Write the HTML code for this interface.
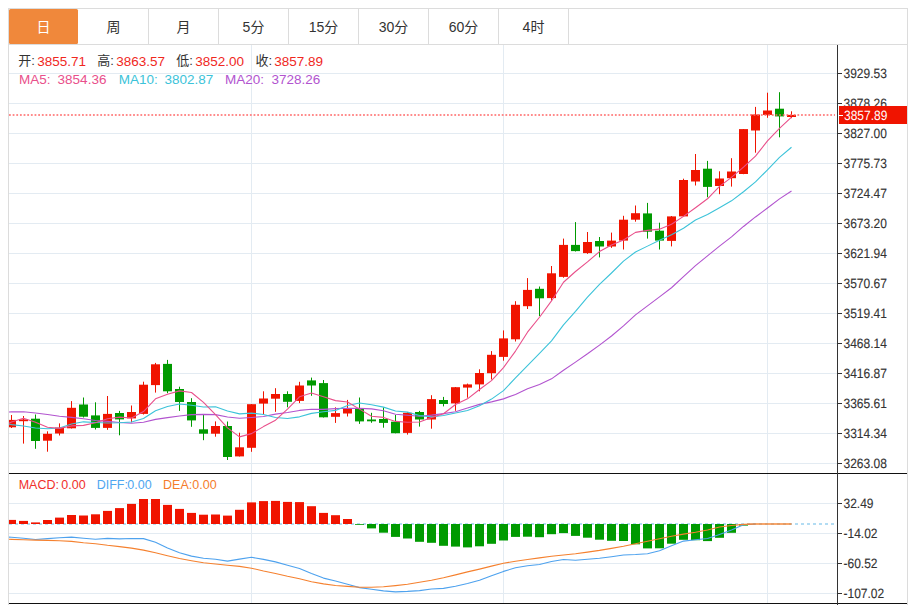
<!DOCTYPE html>
<html><head><meta charset="utf-8"><title>K</title>
<style>html,body{margin:0;padding:0;background:#fff;}body{width:914px;height:605px;overflow:hidden;position:relative;}</style>
</head><body>
<svg width="914" height="605" viewBox="0 0 914 605" style="position:absolute;left:0;top:0">
<defs><clipPath id="cm"><rect x="9" y="45" width="828" height="428"/></clipPath><clipPath id="cd"><rect x="9" y="474" width="828" height="129"/></clipPath></defs>
<rect x="8.5" y="8.5" width="899" height="620" fill="none" stroke="#dcdcdc" stroke-width="1"/>
<line x1="9" y1="44.5" x2="907" y2="44.5" stroke="#dcdcdc"/>
<rect x="9" y="9" width="69" height="35" rx="1.5" ry="1.5" fill="#f0883b"/>
<line x1="148.5" y1="9" x2="148.5" y2="44" stroke="#dcdcdc"/>
<line x1="218.5" y1="9" x2="218.5" y2="44" stroke="#dcdcdc"/>
<line x1="288.5" y1="9" x2="288.5" y2="44" stroke="#dcdcdc"/>
<line x1="358.5" y1="9" x2="358.5" y2="44" stroke="#dcdcdc"/>
<line x1="428.5" y1="9" x2="428.5" y2="44" stroke="#dcdcdc"/>
<line x1="498.5" y1="9" x2="498.5" y2="44" stroke="#dcdcdc"/>
<line x1="568.5" y1="9" x2="568.5" y2="44" stroke="#dcdcdc"/>
<text x="43.5" y="32" text-anchor="middle" font-size="14" fill="#ffffff" font-family="'Liberation Sans', 'Noto Sans CJK SC', sans-serif">日</text>
<text x="113.5" y="32" text-anchor="middle" font-size="14" fill="#333333" font-family="'Liberation Sans', 'Noto Sans CJK SC', sans-serif">周</text>
<text x="183.5" y="32" text-anchor="middle" font-size="14" fill="#333333" font-family="'Liberation Sans', 'Noto Sans CJK SC', sans-serif">月</text>
<text x="253.5" y="32" text-anchor="middle" font-size="14" fill="#333333" font-family="'Liberation Sans', 'Noto Sans CJK SC', sans-serif">5分</text>
<text x="323.5" y="32" text-anchor="middle" font-size="14" fill="#333333" font-family="'Liberation Sans', 'Noto Sans CJK SC', sans-serif">15分</text>
<text x="393.5" y="32" text-anchor="middle" font-size="14" fill="#333333" font-family="'Liberation Sans', 'Noto Sans CJK SC', sans-serif">30分</text>
<text x="463.5" y="32" text-anchor="middle" font-size="14" fill="#333333" font-family="'Liberation Sans', 'Noto Sans CJK SC', sans-serif">60分</text>
<text x="533.5" y="32" text-anchor="middle" font-size="14" fill="#333333" font-family="'Liberation Sans', 'Noto Sans CJK SC', sans-serif">4时</text>
<line x1="9" y1="73.5" x2="837" y2="73.5" stroke="#e3ebf2"/>
<line x1="9" y1="103.5" x2="837" y2="103.5" stroke="#e3ebf2"/>
<line x1="9" y1="133.5" x2="837" y2="133.5" stroke="#e3ebf2"/>
<line x1="9" y1="163.5" x2="837" y2="163.5" stroke="#e3ebf2"/>
<line x1="9" y1="193.5" x2="837" y2="193.5" stroke="#e3ebf2"/>
<line x1="9" y1="223.5" x2="837" y2="223.5" stroke="#e3ebf2"/>
<line x1="9" y1="253.5" x2="837" y2="253.5" stroke="#e3ebf2"/>
<line x1="9" y1="283.5" x2="837" y2="283.5" stroke="#e3ebf2"/>
<line x1="9" y1="313.5" x2="837" y2="313.5" stroke="#e3ebf2"/>
<line x1="9" y1="343.5" x2="837" y2="343.5" stroke="#e3ebf2"/>
<line x1="9" y1="373.5" x2="837" y2="373.5" stroke="#e3ebf2"/>
<line x1="9" y1="403.5" x2="837" y2="403.5" stroke="#e3ebf2"/>
<line x1="9" y1="433.5" x2="837" y2="433.5" stroke="#e3ebf2"/>
<line x1="9" y1="463.5" x2="837" y2="463.5" stroke="#e3ebf2"/>
<line x1="9" y1="503.5" x2="837" y2="503.5" stroke="#e3ebf2"/>
<line x1="9" y1="533.5" x2="837" y2="533.5" stroke="#e3ebf2"/>
<line x1="9" y1="563.5" x2="837" y2="563.5" stroke="#e3ebf2"/>
<line x1="9" y1="593.5" x2="837" y2="593.5" stroke="#e3ebf2"/>
<line x1="251.5" y1="45" x2="251.5" y2="473" stroke="#e3ebf2"/>
<line x1="251.5" y1="474" x2="251.5" y2="603" stroke="#e3ebf2"/>
<line x1="503.5" y1="45" x2="503.5" y2="473" stroke="#e3ebf2"/>
<line x1="503.5" y1="474" x2="503.5" y2="603" stroke="#e3ebf2"/>
<line x1="767.5" y1="45" x2="767.5" y2="473" stroke="#e3ebf2"/>
<line x1="767.5" y1="474" x2="767.5" y2="603" stroke="#e3ebf2"/>
<g clip-path="url(#cm)">
<line x1="11.5" y1="415" x2="11.5" y2="428" stroke="#f01400"/>
<rect x="7.0" y="419.9" width="9" height="7.4" fill="#f01400"/>
<line x1="23.5" y1="416" x2="23.5" y2="443.6" stroke="#f01400"/>
<rect x="19.0" y="419.4" width="9" height="1.8" fill="#f01400"/>
<line x1="35.5" y1="414.5" x2="35.5" y2="448.8" stroke="#009a00"/>
<rect x="31.0" y="418.7" width="9" height="22.3" fill="#009a00"/>
<line x1="47.5" y1="431.3" x2="47.5" y2="451.7" stroke="#f01400"/>
<rect x="43.0" y="433.8" width="9" height="6.9" fill="#f01400"/>
<line x1="59.5" y1="423.4" x2="59.5" y2="435.5" stroke="#f01400"/>
<rect x="55.0" y="427.6" width="9" height="5.9" fill="#f01400"/>
<line x1="71.5" y1="401.1" x2="71.5" y2="428.5" stroke="#f01400"/>
<rect x="67.0" y="407.8" width="9" height="20.5" fill="#f01400"/>
<line x1="83.5" y1="397.5" x2="83.5" y2="417.5" stroke="#009a00"/>
<rect x="79.0" y="404.5" width="9" height="12.2" fill="#009a00"/>
<line x1="95.5" y1="402.3" x2="95.5" y2="429.5" stroke="#009a00"/>
<rect x="91.0" y="415.4" width="9" height="12.5" fill="#009a00"/>
<line x1="107.5" y1="396" x2="107.5" y2="429.8" stroke="#f01400"/>
<rect x="103.0" y="413.9" width="9" height="14" fill="#f01400"/>
<line x1="119.5" y1="410.9" x2="119.5" y2="435.3" stroke="#009a00"/>
<rect x="115.0" y="413" width="9" height="6.4" fill="#009a00"/>
<line x1="131.5" y1="405.5" x2="131.5" y2="422.4" stroke="#f01400"/>
<rect x="127.0" y="412" width="9" height="6.4" fill="#f01400"/>
<line x1="143.5" y1="381.7" x2="143.5" y2="414.5" stroke="#f01400"/>
<rect x="139.0" y="384.7" width="9" height="29.2" fill="#f01400"/>
<line x1="155.5" y1="362.9" x2="155.5" y2="392.6" stroke="#f01400"/>
<rect x="151.0" y="364.3" width="9" height="20.8" fill="#f01400"/>
<line x1="167.5" y1="359.9" x2="167.5" y2="393.2" stroke="#009a00"/>
<rect x="163.0" y="363.9" width="9" height="27.4" fill="#009a00"/>
<line x1="179.5" y1="386.7" x2="179.5" y2="410.9" stroke="#009a00"/>
<rect x="175.0" y="389" width="9" height="13" fill="#009a00"/>
<line x1="191.5" y1="398.2" x2="191.5" y2="426.8" stroke="#009a00"/>
<rect x="187.0" y="402" width="9" height="18.4" fill="#009a00"/>
<line x1="203.5" y1="414.5" x2="203.5" y2="440.2" stroke="#009a00"/>
<rect x="199.0" y="429.3" width="9" height="4.4" fill="#009a00"/>
<line x1="215.5" y1="421.4" x2="215.5" y2="436.7" stroke="#f01400"/>
<rect x="211.0" y="426" width="9" height="7.7" fill="#f01400"/>
<line x1="227.5" y1="421.5" x2="227.5" y2="460" stroke="#009a00"/>
<rect x="223.0" y="426" width="9" height="31" fill="#009a00"/>
<line x1="239.5" y1="432.7" x2="239.5" y2="456.5" stroke="#f01400"/>
<rect x="235.0" y="447.3" width="9" height="9.1" fill="#f01400"/>
<line x1="251.5" y1="404" x2="251.5" y2="451.8" stroke="#f01400"/>
<rect x="247.0" y="404.2" width="9" height="43.6" fill="#f01400"/>
<line x1="263.5" y1="391.3" x2="263.5" y2="414.2" stroke="#f01400"/>
<rect x="259.0" y="398.5" width="9" height="5.1" fill="#f01400"/>
<line x1="275.5" y1="388.2" x2="275.5" y2="411.8" stroke="#f01400"/>
<rect x="271.0" y="394" width="9" height="4.7" fill="#f01400"/>
<line x1="287.5" y1="391.3" x2="287.5" y2="407.3" stroke="#009a00"/>
<rect x="283.0" y="394" width="9" height="7.8" fill="#009a00"/>
<line x1="299.5" y1="381.8" x2="299.5" y2="403.1" stroke="#f01400"/>
<rect x="295.0" y="385.5" width="9" height="15.4" fill="#f01400"/>
<line x1="311.5" y1="377.6" x2="311.5" y2="395.8" stroke="#009a00"/>
<rect x="307.0" y="380.4" width="9" height="5.1" fill="#009a00"/>
<line x1="323.5" y1="380" x2="323.5" y2="417.5" stroke="#009a00"/>
<rect x="319.0" y="383.1" width="9" height="34.2" fill="#009a00"/>
<line x1="335.5" y1="407.3" x2="335.5" y2="422.9" stroke="#f01400"/>
<rect x="331.0" y="413.1" width="9" height="3.7" fill="#f01400"/>
<line x1="347.5" y1="399.9" x2="347.5" y2="416.5" stroke="#f01400"/>
<rect x="343.0" y="408.3" width="9" height="5.2" fill="#f01400"/>
<line x1="359.5" y1="397.5" x2="359.5" y2="423.9" stroke="#009a00"/>
<rect x="355.0" y="408.3" width="9" height="13.1" fill="#009a00"/>
<line x1="371.5" y1="412.8" x2="371.5" y2="422.8" stroke="#009a00"/>
<rect x="367.0" y="419.5" width="9" height="1.8" fill="#009a00"/>
<line x1="383.5" y1="407.3" x2="383.5" y2="427.7" stroke="#009a00"/>
<rect x="379.0" y="419" width="9" height="3.9" fill="#009a00"/>
<line x1="395.5" y1="415" x2="395.5" y2="433.3" stroke="#009a00"/>
<rect x="391.0" y="421.7" width="9" height="11.5" fill="#009a00"/>
<line x1="407.5" y1="412" x2="407.5" y2="434.6" stroke="#f01400"/>
<rect x="403.0" y="412.8" width="9" height="20.1" fill="#f01400"/>
<line x1="419.5" y1="410.9" x2="419.5" y2="426.6" stroke="#009a00"/>
<rect x="415.0" y="412" width="9" height="7.5" fill="#009a00"/>
<line x1="431.5" y1="395.2" x2="431.5" y2="428.7" stroke="#f01400"/>
<rect x="427.0" y="399.1" width="9" height="20.4" fill="#f01400"/>
<line x1="443.5" y1="396.9" x2="443.5" y2="406.4" stroke="#009a00"/>
<rect x="439.0" y="400" width="9" height="4" fill="#009a00"/>
<line x1="455.5" y1="387" x2="455.5" y2="410.8" stroke="#f01400"/>
<rect x="451.0" y="387.2" width="9" height="16.2" fill="#f01400"/>
<line x1="467.5" y1="383.6" x2="467.5" y2="397.7" stroke="#f01400"/>
<rect x="463.0" y="384.4" width="9" height="3.2" fill="#f01400"/>
<line x1="479.5" y1="369.3" x2="479.5" y2="391.3" stroke="#f01400"/>
<rect x="475.0" y="373" width="9" height="11.4" fill="#f01400"/>
<line x1="491.5" y1="351.1" x2="491.5" y2="379.5" stroke="#f01400"/>
<rect x="487.0" y="354.8" width="9" height="18.4" fill="#f01400"/>
<line x1="503.5" y1="330.4" x2="503.5" y2="360.7" stroke="#f01400"/>
<rect x="499.0" y="338.4" width="9" height="18.5" fill="#f01400"/>
<line x1="515.5" y1="301.2" x2="515.5" y2="341.5" stroke="#f01400"/>
<rect x="511.0" y="304.8" width="9" height="34.5" fill="#f01400"/>
<line x1="527.5" y1="278.1" x2="527.5" y2="309" stroke="#f01400"/>
<rect x="523.0" y="289.9" width="9" height="16.3" fill="#f01400"/>
<line x1="539.5" y1="286.5" x2="539.5" y2="316" stroke="#009a00"/>
<rect x="535.0" y="288.8" width="9" height="9.5" fill="#009a00"/>
<line x1="551.5" y1="266" x2="551.5" y2="300.6" stroke="#f01400"/>
<rect x="547.0" y="273.3" width="9" height="24.8" fill="#f01400"/>
<line x1="563.5" y1="238.6" x2="563.5" y2="277.7" stroke="#f01400"/>
<rect x="559.0" y="244.9" width="9" height="32" fill="#f01400"/>
<line x1="575.5" y1="222.1" x2="575.5" y2="251.5" stroke="#009a00"/>
<rect x="571.0" y="244.9" width="9" height="6.2" fill="#009a00"/>
<line x1="587.5" y1="232" x2="587.5" y2="253.9" stroke="#f01400"/>
<rect x="583.0" y="242" width="9" height="11.1" fill="#f01400"/>
<line x1="599.5" y1="237" x2="599.5" y2="257.4" stroke="#009a00"/>
<rect x="595.0" y="241" width="9" height="5.5" fill="#009a00"/>
<line x1="611.5" y1="232.6" x2="611.5" y2="247.9" stroke="#f01400"/>
<rect x="607.0" y="240.6" width="9" height="5.9" fill="#f01400"/>
<line x1="623.5" y1="215.8" x2="623.5" y2="249.5" stroke="#f01400"/>
<rect x="619.0" y="219.7" width="9" height="20.9" fill="#f01400"/>
<line x1="635.5" y1="205.5" x2="635.5" y2="221.7" stroke="#f01400"/>
<rect x="631.0" y="213.2" width="9" height="6.5" fill="#f01400"/>
<line x1="647.5" y1="202.9" x2="647.5" y2="238.6" stroke="#009a00"/>
<rect x="643.0" y="213.4" width="9" height="18.3" fill="#009a00"/>
<line x1="659.5" y1="222.7" x2="659.5" y2="249.5" stroke="#009a00"/>
<rect x="655.0" y="230.7" width="9" height="9.9" fill="#009a00"/>
<line x1="671.5" y1="216" x2="671.5" y2="246.4" stroke="#f01400"/>
<rect x="667.0" y="216.4" width="9" height="24.5" fill="#f01400"/>
<line x1="683.5" y1="178.7" x2="683.5" y2="216.5" stroke="#f01400"/>
<rect x="679.0" y="180" width="9" height="36.4" fill="#f01400"/>
<line x1="695.5" y1="154" x2="695.5" y2="185.5" stroke="#f01400"/>
<rect x="691.0" y="170" width="9" height="11.5" fill="#f01400"/>
<line x1="707.5" y1="160.9" x2="707.5" y2="197.3" stroke="#009a00"/>
<rect x="703.0" y="168.7" width="9" height="18.2" fill="#009a00"/>
<line x1="719.5" y1="171.3" x2="719.5" y2="194.2" stroke="#f01400"/>
<rect x="715.0" y="178.5" width="9" height="7.5" fill="#f01400"/>
<line x1="731.5" y1="158.2" x2="731.5" y2="186.6" stroke="#f01400"/>
<rect x="727.0" y="171.5" width="9" height="6.7" fill="#f01400"/>
<line x1="743.5" y1="129" x2="743.5" y2="174.2" stroke="#f01400"/>
<rect x="739.0" y="129.1" width="9" height="44.9" fill="#f01400"/>
<line x1="755.5" y1="106.9" x2="755.5" y2="152.7" stroke="#f01400"/>
<rect x="751.0" y="114.5" width="9" height="16" fill="#f01400"/>
<line x1="767.5" y1="92.7" x2="767.5" y2="117.8" stroke="#f01400"/>
<rect x="763.0" y="110.5" width="9" height="4.4" fill="#f01400"/>
<line x1="779.5" y1="92.2" x2="779.5" y2="137.3" stroke="#009a00"/>
<rect x="775.0" y="108.7" width="9" height="7.7" fill="#009a00"/>
<line x1="791.5" y1="111.3" x2="791.5" y2="118.2" stroke="#f01400"/>
<rect x="787.0" y="114.9" width="9" height="2.1" fill="#f01400"/>
<polyline points="-0.5,412 11.5,411.91 23.5,411.82 35.5,413.06 47.5,414.53 59.5,416.29 71.5,417.42 83.5,418.8 95.5,420.5 107.5,421.41 119.5,422.55 131.5,423.27 143.5,422.22 155.5,419.41 167.5,417.63 179.5,415.97 191.5,414.59 203.5,414.4 215.5,414.66 227.5,417.06 239.5,418.31 251.5,417.52 263.5,416.48 275.5,414.12 287.5,412.52 299.5,410.42 311.5,409.31 323.5,409.34 335.5,408.6 347.5,408.32 359.5,408.42 371.5,408.88 383.5,410.79 395.5,414.23 407.5,415.31 419.5,416.18 431.5,415.12 443.5,413.64 455.5,411.7 467.5,408.06 479.5,404.35 491.5,401.88 503.5,398.87 515.5,394.42 527.5,388.82 539.5,384.46 551.5,378.85 563.5,370.23 575.5,362.13 587.5,353.81 599.5,345.07 611.5,336.04 623.5,325.88 635.5,314.88 647.5,305.82 659.5,296.87 671.5,287.74 683.5,276.54 695.5,265.68 707.5,255.8 719.5,246.08 731.5,236.91 743.5,226.45 755.5,216.94 767.5,207.96 779.5,198.87 791.5,190.95" fill="none" stroke="#b254cf" stroke-width="1.1" stroke-linejoin="round"/>
<polyline points="-0.5,422.36 11.5,424.58 23.5,425.96 35.5,428.02 47.5,428.71 59.5,427.94 71.5,423.93 83.5,421.83 95.5,422.55 107.5,423.05 119.5,422.74 131.5,421.95 143.5,418.48 155.5,410.81 167.5,406.56 179.5,404 191.5,405.26 203.5,406.96 215.5,406.77 227.5,411.08 239.5,413.87 251.5,413.09 263.5,414.47 275.5,417.44 287.5,418.49 299.5,416.84 311.5,413.35 323.5,411.71 335.5,410.42 347.5,405.55 359.5,402.96 371.5,404.67 383.5,407.11 395.5,411.03 407.5,412.13 419.5,415.53 431.5,416.89 443.5,415.56 455.5,412.97 467.5,410.58 479.5,405.74 491.5,399.09 503.5,390.64 515.5,377.8 527.5,365.51 539.5,353.39 551.5,340.81 563.5,324.9 575.5,311.29 587.5,297.05 599.5,284.4 611.5,272.98 623.5,261.11 635.5,251.95 647.5,246.13 659.5,240.36 671.5,234.67 683.5,228.18 695.5,220.07 707.5,214.56 719.5,207.76 731.5,200.85 743.5,191.79 755.5,181.92 767.5,169.8 779.5,157.38 791.5,147.23" fill="none" stroke="#3cc3d9" stroke-width="1.1" stroke-linejoin="round"/>
<polyline points="-0.5,427.54 11.5,421.94 23.5,418.29 35.5,422.34 47.5,427.32 59.5,428.34 71.5,425.92 83.5,425.38 95.5,422.76 107.5,418.78 119.5,417.14 131.5,417.98 143.5,411.58 155.5,398.86 167.5,394.34 179.5,390.86 191.5,392.54 203.5,402.34 215.5,414.68 227.5,427.82 239.5,436.88 251.5,433.64 263.5,426.6 275.5,420.2 287.5,409.16 299.5,396.8 311.5,393.06 323.5,396.82 335.5,400.64 347.5,401.94 359.5,409.12 371.5,416.28 383.5,417.4 395.5,421.42 407.5,422.32 419.5,421.94 431.5,417.5 443.5,413.72 455.5,404.52 467.5,398.84 479.5,389.54 491.5,380.68 503.5,367.56 515.5,351.08 527.5,332.18 539.5,317.24 551.5,300.94 563.5,282.24 575.5,271.5 587.5,261.92 599.5,251.56 611.5,245.02 623.5,239.98 635.5,232.4 647.5,230.34 659.5,229.16 671.5,224.32 683.5,216.38 695.5,207.74 707.5,198.78 719.5,186.36 731.5,177.38 743.5,167.2 755.5,156.1 767.5,140.82 779.5,128.4 791.5,117.08" fill="none" stroke="#e9508b" stroke-width="1.1" stroke-linejoin="round"/>
<line x1="9" y1="115" x2="835" y2="115" stroke="#f66" stroke-width="1.3" stroke-dasharray="1.8 1.85"/>
</g>
<g clip-path="url(#cd)">
<line x1="9" y1="524" x2="837" y2="524" stroke="#b2dcf3" stroke-width="2" stroke-dasharray="3 3"/>
<rect x="7.0" y="519.9" width="9" height="4.1" fill="#f01400"/>
<rect x="19.0" y="520.9" width="9" height="3.1" fill="#f01400"/>
<rect x="31.0" y="522.4" width="9" height="1.6" fill="#f01400"/>
<rect x="43.0" y="520" width="9" height="4" fill="#f01400"/>
<rect x="55.0" y="517.6" width="9" height="6.4" fill="#f01400"/>
<rect x="67.0" y="515" width="9" height="9" fill="#f01400"/>
<rect x="79.0" y="515.5" width="9" height="8.5" fill="#f01400"/>
<rect x="91.0" y="514.3" width="9" height="9.7" fill="#f01400"/>
<rect x="103.0" y="510.9" width="9" height="13.1" fill="#f01400"/>
<rect x="115.0" y="508.1" width="9" height="15.9" fill="#f01400"/>
<rect x="127.0" y="503.9" width="9" height="20.1" fill="#f01400"/>
<rect x="139.0" y="499" width="9" height="25" fill="#f01400"/>
<rect x="151.0" y="499" width="9" height="25" fill="#f01400"/>
<rect x="163.0" y="504.9" width="9" height="19.1" fill="#f01400"/>
<rect x="175.0" y="508.9" width="9" height="15.1" fill="#f01400"/>
<rect x="187.0" y="512.9" width="9" height="11.1" fill="#f01400"/>
<rect x="199.0" y="514.7" width="9" height="9.3" fill="#f01400"/>
<rect x="211.0" y="514.5" width="9" height="9.5" fill="#f01400"/>
<rect x="223.0" y="515.6" width="9" height="8.4" fill="#f01400"/>
<rect x="235.0" y="509.8" width="9" height="14.2" fill="#f01400"/>
<rect x="247.0" y="502.4" width="9" height="21.6" fill="#f01400"/>
<rect x="259.0" y="501.1" width="9" height="22.9" fill="#f01400"/>
<rect x="271.0" y="500.9" width="9" height="23.1" fill="#f01400"/>
<rect x="283.0" y="501.9" width="9" height="22.1" fill="#f01400"/>
<rect x="295.0" y="502.1" width="9" height="21.9" fill="#f01400"/>
<rect x="307.0" y="506.2" width="9" height="17.8" fill="#f01400"/>
<rect x="319.0" y="512.9" width="9" height="11.1" fill="#f01400"/>
<rect x="331.0" y="515.2" width="9" height="8.8" fill="#f01400"/>
<rect x="343.0" y="519" width="9" height="5" fill="#f01400"/>
<rect x="355.0" y="524" width="9" height="0.8" fill="#009a00"/>
<rect x="367.0" y="524" width="9" height="4.4" fill="#009a00"/>
<rect x="379.0" y="524" width="9" height="8.7" fill="#009a00"/>
<rect x="391.0" y="524" width="9" height="12.9" fill="#009a00"/>
<rect x="403.0" y="524" width="9" height="14.5" fill="#009a00"/>
<rect x="415.0" y="524" width="9" height="17.8" fill="#009a00"/>
<rect x="427.0" y="524" width="9" height="18.8" fill="#009a00"/>
<rect x="439.0" y="524" width="9" height="21.8" fill="#009a00"/>
<rect x="451.0" y="524" width="9" height="22.6" fill="#009a00"/>
<rect x="463.0" y="524" width="9" height="23.4" fill="#009a00"/>
<rect x="475.0" y="524" width="9" height="22.3" fill="#009a00"/>
<rect x="487.0" y="524" width="9" height="19.8" fill="#009a00"/>
<rect x="499.0" y="524" width="9" height="16.5" fill="#009a00"/>
<rect x="511.0" y="524" width="9" height="12.9" fill="#009a00"/>
<rect x="523.0" y="524" width="9" height="12.7" fill="#009a00"/>
<rect x="535.0" y="524" width="9" height="13.2" fill="#009a00"/>
<rect x="547.0" y="524" width="9" height="10.2" fill="#009a00"/>
<rect x="559.0" y="524" width="9" height="9.1" fill="#009a00"/>
<rect x="571.0" y="524" width="9" height="11.9" fill="#009a00"/>
<rect x="583.0" y="524" width="9" height="13.7" fill="#009a00"/>
<rect x="595.0" y="524" width="9" height="15.7" fill="#009a00"/>
<rect x="607.0" y="524" width="9" height="16.8" fill="#009a00"/>
<rect x="619.0" y="524" width="9" height="17" fill="#009a00"/>
<rect x="631.0" y="524" width="9" height="20.3" fill="#009a00"/>
<rect x="643.0" y="524" width="9" height="24.4" fill="#009a00"/>
<rect x="655.0" y="524" width="9" height="24.3" fill="#009a00"/>
<rect x="667.0" y="524" width="9" height="19.7" fill="#009a00"/>
<rect x="679.0" y="524" width="9" height="15.8" fill="#009a00"/>
<rect x="691.0" y="524" width="9" height="16.2" fill="#009a00"/>
<rect x="703.0" y="524" width="9" height="17.1" fill="#009a00"/>
<rect x="715.0" y="524" width="9" height="13.8" fill="#009a00"/>
<rect x="727.0" y="524" width="9" height="8.8" fill="#009a00"/>
<rect x="739.0" y="524" width="9" height="1.6" fill="#009a00"/>
<polyline points="9,537.09 11.5,537.3 23.5,538.3 35.5,539.5 47.5,538.6 59.5,537.7 71.5,537.1 83.5,538.3 95.5,539.3 107.5,538.4 119.5,538.9 131.5,538.5 143.5,538.6 155.5,542.2 167.5,548.1 179.5,552.8 191.5,556.1 203.5,558.3 215.5,559.3 227.5,561.1 239.5,559.1 251.5,557.3 263.5,559.4 275.5,561.9 287.5,565.2 299.5,568.5 311.5,573.5 323.5,578.1 335.5,581 347.5,584.3 359.5,587.6 371.5,589.3 383.5,590.9 395.5,591.9 407.5,591.4 419.5,590.6 431.5,589 443.5,588.4 455.5,586.3 467.5,583.5 479.5,580.2 491.5,575.7 503.5,571.4 515.5,567.8 527.5,565.8 539.5,564.5 551.5,561.5 563.5,559.5 575.5,560.3 587.5,559.2 599.5,558.2 611.5,556.7 623.5,555 635.5,554.5 647.5,553.7 659.5,550.7 671.5,545.7 683.5,541.1 695.5,539.8 707.5,538.5 719.5,534.4 731.5,530.1 743.5,524.8 755.5,524" fill="none" stroke="#4ea2ee" stroke-width="1.1" stroke-linejoin="round"/>
<polyline points="9,539.32 11.5,539.4 23.5,539.8 35.5,540.1 47.5,540.4 59.5,540.7 71.5,541.4 83.5,542.8 95.5,543.7 107.5,545.3 119.5,546.6 131.5,548.1 143.5,550.1 155.5,552.8 167.5,555.7 179.5,558.5 191.5,560.7 203.5,562.7 215.5,564 227.5,565.2 239.5,566.4 251.5,568.2 263.5,571 275.5,573.5 287.5,576.3 299.5,578.8 311.5,581.7 323.5,583.9 335.5,585.5 347.5,586.4 359.5,587.3 371.5,587.3 383.5,586.8 395.5,585.6 407.5,584.3 419.5,582.3 431.5,580.2 443.5,577.7 455.5,574.9 467.5,571.9 479.5,569.1 491.5,566.1 503.5,563.3 515.5,561.2 527.5,559.5 539.5,557.9 551.5,556.2 563.5,555 575.5,553.7 587.5,552.1 599.5,550.4 611.5,548.4 623.5,546.3 635.5,543.8 647.5,541.3 659.5,538.7 671.5,536.2 683.5,534.1 695.5,532.2 707.5,530 719.5,527 731.5,525.5 743.5,524.35 755.5,524 767.5,524 779.5,524 791.5,524" fill="none" stroke="#f5812f" stroke-width="1.1" stroke-linejoin="round"/>
<line x1="747" y1="524" x2="791.5" y2="524" stroke="#f5812f" stroke-width="1.6" stroke-opacity="0.55"/>
</g>
<line x1="9" y1="473.5" x2="907" y2="473.5" stroke="#111" stroke-width="1"/>
<line x1="9" y1="603.5" x2="907" y2="603.5" stroke="#111" stroke-width="1"/>
<line x1="837.5" y1="45" x2="837.5" y2="605" stroke="#333333"/>
<line x1="838" y1="73.5" x2="842" y2="73.5" stroke="#333333"/>
<g transform="translate(843.5 77.8) scale(1 1.13)"><text font-size="12" fill="#333333" stroke="#333333" stroke-width="0.12" style="text-rendering:geometricPrecision" font-family="'Liberation Sans', 'Noto Sans CJK SC', sans-serif">3929.53</text></g>
<line x1="838" y1="103.5" x2="842" y2="103.5" stroke="#333333"/>
<g transform="translate(843.5 107.8) scale(1 1.13)"><text font-size="12" fill="#333333" stroke="#333333" stroke-width="0.12" style="text-rendering:geometricPrecision" font-family="'Liberation Sans', 'Noto Sans CJK SC', sans-serif">3878.26</text></g>
<line x1="838" y1="133.5" x2="842" y2="133.5" stroke="#333333"/>
<g transform="translate(843.5 137.8) scale(1 1.13)"><text font-size="12" fill="#333333" stroke="#333333" stroke-width="0.12" style="text-rendering:geometricPrecision" font-family="'Liberation Sans', 'Noto Sans CJK SC', sans-serif">3827.00</text></g>
<line x1="838" y1="163.5" x2="842" y2="163.5" stroke="#333333"/>
<g transform="translate(843.5 167.8) scale(1 1.13)"><text font-size="12" fill="#333333" stroke="#333333" stroke-width="0.12" style="text-rendering:geometricPrecision" font-family="'Liberation Sans', 'Noto Sans CJK SC', sans-serif">3775.73</text></g>
<line x1="838" y1="193.5" x2="842" y2="193.5" stroke="#333333"/>
<g transform="translate(843.5 197.8) scale(1 1.13)"><text font-size="12" fill="#333333" stroke="#333333" stroke-width="0.12" style="text-rendering:geometricPrecision" font-family="'Liberation Sans', 'Noto Sans CJK SC', sans-serif">3724.47</text></g>
<line x1="838" y1="223.5" x2="842" y2="223.5" stroke="#333333"/>
<g transform="translate(843.5 227.8) scale(1 1.13)"><text font-size="12" fill="#333333" stroke="#333333" stroke-width="0.12" style="text-rendering:geometricPrecision" font-family="'Liberation Sans', 'Noto Sans CJK SC', sans-serif">3673.20</text></g>
<line x1="838" y1="253.5" x2="842" y2="253.5" stroke="#333333"/>
<g transform="translate(843.5 257.8) scale(1 1.13)"><text font-size="12" fill="#333333" stroke="#333333" stroke-width="0.12" style="text-rendering:geometricPrecision" font-family="'Liberation Sans', 'Noto Sans CJK SC', sans-serif">3621.94</text></g>
<line x1="838" y1="283.5" x2="842" y2="283.5" stroke="#333333"/>
<g transform="translate(843.5 287.8) scale(1 1.13)"><text font-size="12" fill="#333333" stroke="#333333" stroke-width="0.12" style="text-rendering:geometricPrecision" font-family="'Liberation Sans', 'Noto Sans CJK SC', sans-serif">3570.67</text></g>
<line x1="838" y1="313.5" x2="842" y2="313.5" stroke="#333333"/>
<g transform="translate(843.5 317.8) scale(1 1.13)"><text font-size="12" fill="#333333" stroke="#333333" stroke-width="0.12" style="text-rendering:geometricPrecision" font-family="'Liberation Sans', 'Noto Sans CJK SC', sans-serif">3519.41</text></g>
<line x1="838" y1="343.5" x2="842" y2="343.5" stroke="#333333"/>
<g transform="translate(843.5 347.8) scale(1 1.13)"><text font-size="12" fill="#333333" stroke="#333333" stroke-width="0.12" style="text-rendering:geometricPrecision" font-family="'Liberation Sans', 'Noto Sans CJK SC', sans-serif">3468.14</text></g>
<line x1="838" y1="373.5" x2="842" y2="373.5" stroke="#333333"/>
<g transform="translate(843.5 377.8) scale(1 1.13)"><text font-size="12" fill="#333333" stroke="#333333" stroke-width="0.12" style="text-rendering:geometricPrecision" font-family="'Liberation Sans', 'Noto Sans CJK SC', sans-serif">3416.87</text></g>
<line x1="838" y1="403.5" x2="842" y2="403.5" stroke="#333333"/>
<g transform="translate(843.5 407.8) scale(1 1.13)"><text font-size="12" fill="#333333" stroke="#333333" stroke-width="0.12" style="text-rendering:geometricPrecision" font-family="'Liberation Sans', 'Noto Sans CJK SC', sans-serif">3365.61</text></g>
<line x1="838" y1="433.5" x2="842" y2="433.5" stroke="#333333"/>
<g transform="translate(843.5 437.8) scale(1 1.13)"><text font-size="12" fill="#333333" stroke="#333333" stroke-width="0.12" style="text-rendering:geometricPrecision" font-family="'Liberation Sans', 'Noto Sans CJK SC', sans-serif">3314.34</text></g>
<line x1="838" y1="463.5" x2="842" y2="463.5" stroke="#333333"/>
<g transform="translate(843.5 467.8) scale(1 1.13)"><text font-size="12" fill="#333333" stroke="#333333" stroke-width="0.12" style="text-rendering:geometricPrecision" font-family="'Liberation Sans', 'Noto Sans CJK SC', sans-serif">3263.08</text></g>
<line x1="838" y1="503.5" x2="842" y2="503.5" stroke="#333333"/>
<g transform="translate(843.5 507.8) scale(1 1.13)"><text font-size="12" fill="#333333" stroke="#333333" stroke-width="0.12" style="text-rendering:geometricPrecision" font-family="'Liberation Sans', 'Noto Sans CJK SC', sans-serif">32.49</text></g>
<line x1="838" y1="533.5" x2="842" y2="533.5" stroke="#333333"/>
<g transform="translate(843.5 537.8) scale(1 1.13)"><text font-size="12" fill="#333333" stroke="#333333" stroke-width="0.12" style="text-rendering:geometricPrecision" font-family="'Liberation Sans', 'Noto Sans CJK SC', sans-serif">-14.02</text></g>
<line x1="838" y1="563.5" x2="842" y2="563.5" stroke="#333333"/>
<g transform="translate(843.5 567.8) scale(1 1.13)"><text font-size="12" fill="#333333" stroke="#333333" stroke-width="0.12" style="text-rendering:geometricPrecision" font-family="'Liberation Sans', 'Noto Sans CJK SC', sans-serif">-60.52</text></g>
<line x1="838" y1="593.5" x2="842" y2="593.5" stroke="#333333"/>
<g transform="translate(843.5 597.8) scale(1 1.13)"><text font-size="12" fill="#333333" stroke="#333333" stroke-width="0.12" style="text-rendering:geometricPrecision" font-family="'Liberation Sans', 'Noto Sans CJK SC', sans-serif">-107.02</text></g>
<rect x="839" y="106" width="68" height="18" fill="#f01400"/>
<line x1="839" y1="115.5" x2="843" y2="115.5" stroke="#fff"/>
<g transform="translate(844 119.5) scale(1 1.13)"><text font-size="12" fill="#fff" style="text-rendering:geometricPrecision" font-family="'Liberation Sans', 'Noto Sans CJK SC', sans-serif">3857.89</text></g>
<text x="18.3" y="65.4" font-size="13" fill="#333333" font-family="'Liberation Sans', 'Noto Sans CJK SC', sans-serif">开:</text>
<text x="37.3" y="66" font-size="13.5" fill="#f0281e" font-family="'Liberation Sans', 'Noto Sans CJK SC', sans-serif">3855.71</text>
<text x="97.3" y="65.4" font-size="13" fill="#333333" font-family="'Liberation Sans', 'Noto Sans CJK SC', sans-serif">高:</text>
<text x="116.3" y="66" font-size="13.5" fill="#f0281e" font-family="'Liberation Sans', 'Noto Sans CJK SC', sans-serif">3863.57</text>
<text x="176.3" y="65.4" font-size="13" fill="#333333" font-family="'Liberation Sans', 'Noto Sans CJK SC', sans-serif">低:</text>
<text x="195.3" y="66" font-size="13.5" fill="#f0281e" font-family="'Liberation Sans', 'Noto Sans CJK SC', sans-serif">3852.00</text>
<text x="255.5" y="65.4" font-size="13" fill="#333333" font-family="'Liberation Sans', 'Noto Sans CJK SC', sans-serif">收:</text>
<text x="274.2" y="66" font-size="13.5" fill="#f0281e" font-family="'Liberation Sans', 'Noto Sans CJK SC', sans-serif">3857.89</text>
<text x="19" y="83.5" font-size="13.5" fill="#e9508b" font-family="'Liberation Sans', 'Noto Sans CJK SC', sans-serif">MA5:</text>
<text x="57.6" y="83.5" font-size="13.5" fill="#e9508b" font-family="'Liberation Sans', 'Noto Sans CJK SC', sans-serif">3854.36</text>
<text x="118.8" y="83.5" font-size="13.5" fill="#3cc3d9" font-family="'Liberation Sans', 'Noto Sans CJK SC', sans-serif">MA10:</text>
<text x="164.5" y="83.5" font-size="13.5" fill="#3cc3d9" font-family="'Liberation Sans', 'Noto Sans CJK SC', sans-serif">3802.87</text>
<text x="225" y="83.5" font-size="13.5" fill="#b254cf" font-family="'Liberation Sans', 'Noto Sans CJK SC', sans-serif">MA20:</text>
<text x="271.4" y="83.5" font-size="13.5" fill="#b254cf" font-family="'Liberation Sans', 'Noto Sans CJK SC', sans-serif">3728.26</text>
<text x="18.7" y="489" font-size="12.5" fill="#f0302a" font-family="'Liberation Sans', 'Noto Sans CJK SC', sans-serif">MACD:</text>
<text x="61.3" y="489" font-size="12.5" fill="#f0302a" font-family="'Liberation Sans', 'Noto Sans CJK SC', sans-serif">0.00</text>
<text x="96.7" y="489" font-size="12.5" fill="#4ea6f0" font-family="'Liberation Sans', 'Noto Sans CJK SC', sans-serif">DIFF:</text>
<text x="127.3" y="489" font-size="12.5" fill="#4ea6f0" font-family="'Liberation Sans', 'Noto Sans CJK SC', sans-serif">0.00</text>
<text x="163.1" y="489" font-size="12.5" fill="#f57c2a" font-family="'Liberation Sans', 'Noto Sans CJK SC', sans-serif">DEA:</text>
<text x="192.3" y="489" font-size="12.5" fill="#f57c2a" font-family="'Liberation Sans', 'Noto Sans CJK SC', sans-serif">0.00</text>
</svg>
</body></html>
